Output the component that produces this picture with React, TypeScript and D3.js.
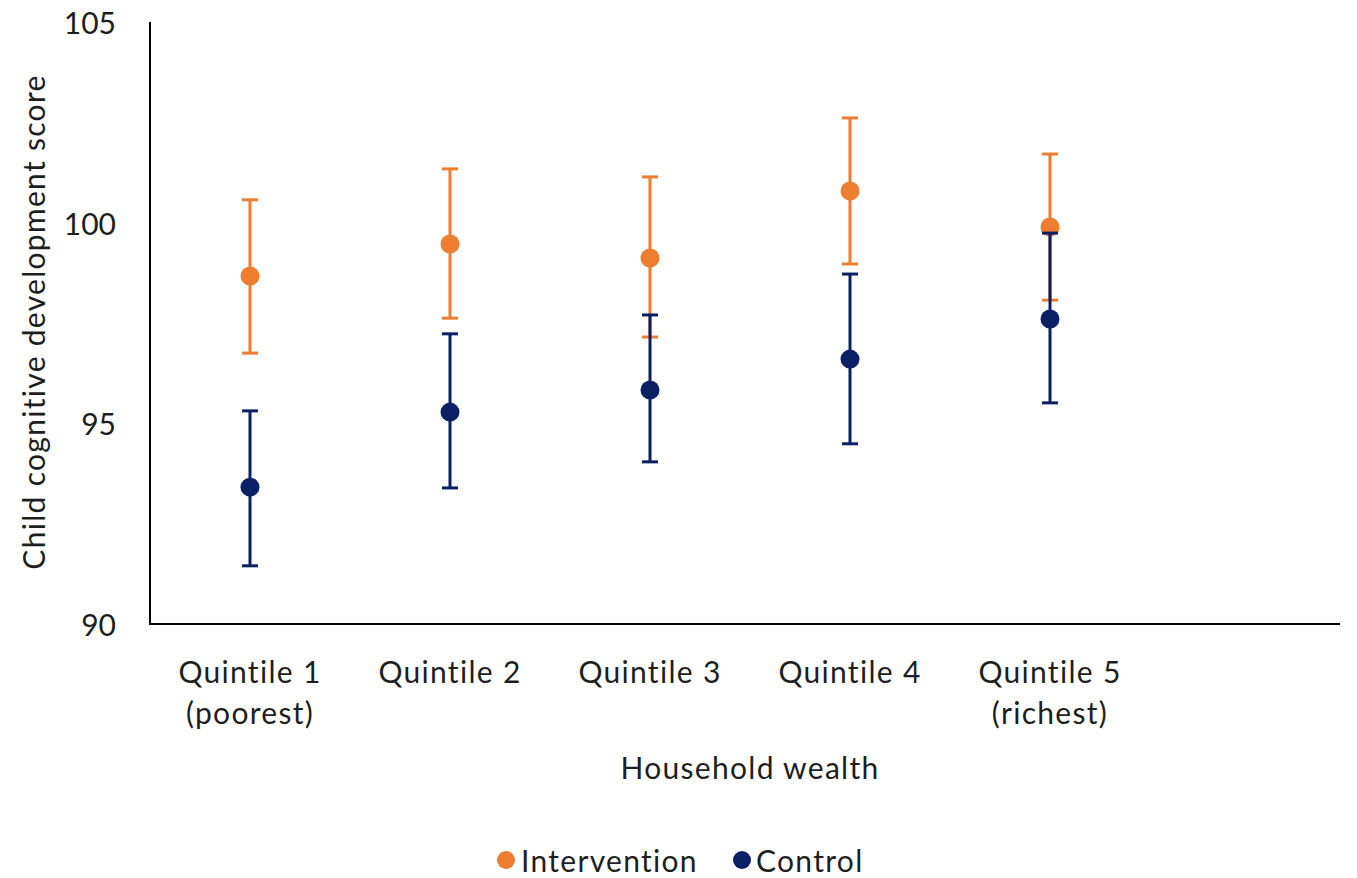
import React from "react";
import * as d3 from "d3";

const categories = ["Quintile 1|(poorest)", "Quintile 2", "Quintile 3", "Quintile 4", "Quintile 5|(richest)"];
const interventionMean = [98.67, 99.47, 99.12, 100.79, 99.89];
const interventionLow = [96.75, 97.62, 97.15, 98.97, 98.07];
const interventionHigh = [100.57, 101.34, 101.14, 102.61, 101.71];
const controlMean = [93.41, 95.28, 95.83, 96.6, 97.6];
const controlLow = [91.45, 93.39, 94.04, 94.49, 95.51];
const controlHigh = [95.31, 97.23, 97.7, 98.72, 99.74];
const yTicks = [90, 95, 100, 105];

const ORANGE = "#ED7D31";
const NAVY = "#0B1F64";
const FONT = "Lato, 'Open Sans', sans-serif";
const TXT = "#1e1e1e";

export default function App() {
  const W = 1357, H = 878;
  const left = 150, top = 22, bottom = 624, right = 1340;
  const y = d3.scaleLinear().domain([90, 105]).range([bottom, top]);
  const x = d3.scaleLinear().domain([0, 1]).range([250, 450]);

  const series = [
    { name: "Intervention", color: ORANGE, mean: interventionMean, low: interventionLow, high: interventionHigh },
    { name: "Control", color: NAVY, mean: controlMean, low: controlLow, high: controlHigh },
  ];

  const lab = { fontSize: 30, letterSpacing: 1.3, fill: TXT } as const;

  return (
    <svg width={W} height={H} style={{ position: "absolute", left: 0, top: 0, background: "#fff" }} fontFamily={FONT}>
      <line x1={left} x2={left} y1={top} y2={bottom} stroke="#000" strokeWidth={2} />
      <line x1={left - 1} x2={right} y1={bottom} y2={bottom} stroke="#000" strokeWidth={2} />
      {yTicks.map((t) => (
        <text key={t} x={116} y={y(t)} textAnchor="end" dominantBaseline="central" fontSize={30} fill={TXT}>
          {t}
        </text>
      ))}
      <text
        transform={`translate(33, 322) rotate(-90)`}
        textAnchor="middle"
        dominantBaseline="central"
        {...lab}
      >
        Child cognitive development score
      </text>
      {categories.map((c, i) => (
        <text key={i} textAnchor="middle" {...lab}>
          {c.split("|").map((line, j) => (
            <tspan key={j} x={x(i)} y={671 + j * 41} dominantBaseline="central">
              {line}
            </tspan>
          ))}
        </text>
      ))}
      <text x={750} y={767} textAnchor="middle" dominantBaseline="central" {...lab}>
        Household wealth
      </text>
      {series.map((s) =>
        s.mean.map((m, i) => (
          <g key={s.name + i}>
            <line x1={x(i)} x2={x(i)} y1={y(s.low[i])} y2={y(s.high[i])} stroke={s.color} strokeWidth={3} />
            <line x1={x(i) - 8} x2={x(i) + 8} y1={y(s.low[i])} y2={y(s.low[i])} stroke={s.color} strokeWidth={3} />
            <line x1={x(i) - 8} x2={x(i) + 8} y1={y(s.high[i])} y2={y(s.high[i])} stroke={s.color} strokeWidth={3} />
            <circle cx={x(i)} cy={y(m)} r={9.5} fill={s.color} />
          </g>
        ))
      )}
      <circle cx={506} cy={860} r={9} fill={ORANGE} />
      <text x={521} y={860} dominantBaseline="central" {...lab}>Intervention</text>
      <circle cx={742} cy={860} r={9} fill={NAVY} />
      <text x={756} y={860} dominantBaseline="central" {...lab}>Control</text>
    </svg>
  );
}
